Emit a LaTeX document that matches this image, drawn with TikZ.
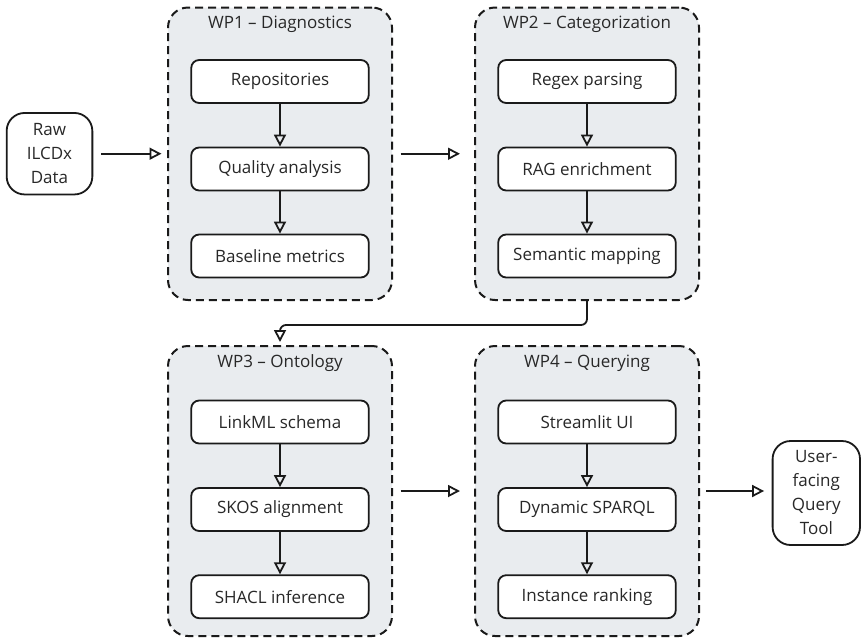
\documentclass[tikz,border=0pt]{standalone}
\usepackage{fontspec}
\setmainfont{Open Sans}
\usetikzlibrary{arrows.meta,calc}
\definecolor{clfill}{RGB}{233,236,239}
\definecolor{txt}{RGB}{40,40,40}
\definecolor{ln}{RGB}{26,26,26}
\begin{document}
\begin{tikzpicture}[x=1pt,y=-1pt,
  font=\fontsize{17}{24}\selectfont,
  cluster/.style={draw=ln, line width=2pt, dash pattern=on 8pt off 5pt, fill=clfill,
    rounded corners=20pt, minimum width=224pt, inner sep=0pt},
  cltitle/.style={text=txt, inner sep=0pt},
  stepbox/.style={draw=ln, line width=1.8pt, fill=white, rounded corners=8pt,
    minimum width=177.5pt, minimum height=43pt, inner sep=0pt, text=txt},
  endbox/.style={draw=ln, line width=1.8pt, fill=white, rounded corners=18pt,
    align=center, inner sep=0pt, text=txt},
  arr/.style={draw=ln, line width=1.8pt, -{Triangle[open,length=12pt,width=12pt]}}
]
\useasboundingbox (0,0) rectangle (861,638);

% clusters
\node[cluster, minimum height=292.5pt] (wp1) at (280,153.75) {};
\node[cluster, minimum height=292.5pt] (wp2) at (587,153.75) {};
\node[cluster, minimum height=290pt] (wp3) at (280,491) {};
\node[cluster, minimum height=290pt] (wp4) at (587,491) {};

\node[cltitle] (t1) at (280,24.4) {WP1 – Diagnostics};
\node[cltitle] (t2) at (587,24.4) {WP2 – Categorization};
\node[cltitle] (t3) at (280,363) {WP3 – Ontology};
\node[cltitle] (t4) at (587,363) {WP4 – Querying};

% WP1
\node[stepbox] (a1) at (280,81.5) {Repositories};
\node[stepbox] (a2) at (280,169) {Quality analysis};
\node[stepbox] (a3) at (280,256) {Baseline metrics};
% WP2
\node[stepbox] (b1) at (587,81.5) {Regex parsing};
\node[stepbox] (b2) at (587,169) {RAG enrichment};
\node[stepbox] (b3) at (587,256) {Semantic mapping};
% WP3
\node[stepbox] (c1) at (280,422) {LinkML schema};
\node[stepbox] (c2) at (280,509.5) {SKOS alignment};
\node[stepbox] (c3) at (280,596.7) {SHACL inference};
% WP4
\node[stepbox] (d1) at (587,422) {Streamlit UI};
\node[stepbox] (d2) at (587,509.5) {Dynamic SPARQL};
\node[stepbox] (d3) at (587,596.7) {Instance ranking};

% end nodes
\node[endbox, minimum width=85.7pt, minimum height=81.5pt] (raw) at (49.5,153.7) {Raw\\ILCDx\\Data};
\node[endbox, minimum width=87.4pt, minimum height=104pt] (user) at (816.3,493) {User-\\facing\\Query\\Tool};

% inner arrows
\draw[arr] (a1) -- (a2);
\draw[arr] (a2) -- (a3);
\draw[arr] (b1) -- (b2);
\draw[arr] (b2) -- (b3);
\draw[arr] (c1) -- (c2);
\draw[arr] (c2) -- (c3);
\draw[arr] (d1) -- (d2);
\draw[arr] (d2) -- (d3);

% flow arrows
\draw[arr, shorten <=8pt, shorten >=5.5pt] (raw.east) -- (raw.east -| wp1.west);
\draw[arr, shorten <=7.5pt, shorten >=14pt] (wp1.east) -- (wp2.west);
\draw[arr, shorten <=7.5pt, shorten >=14pt] (wp3.east) -- (wp4.west);
\draw[arr, shorten <=6pt, shorten >=7.6pt] (wp4.east) -- (wp4.east -| user.west);
\draw[arr, rounded corners=6pt, shorten >=3pt] (wp2.south) -- ++(0,24) -| (wp3.north);
\end{tikzpicture}
\end{document}
